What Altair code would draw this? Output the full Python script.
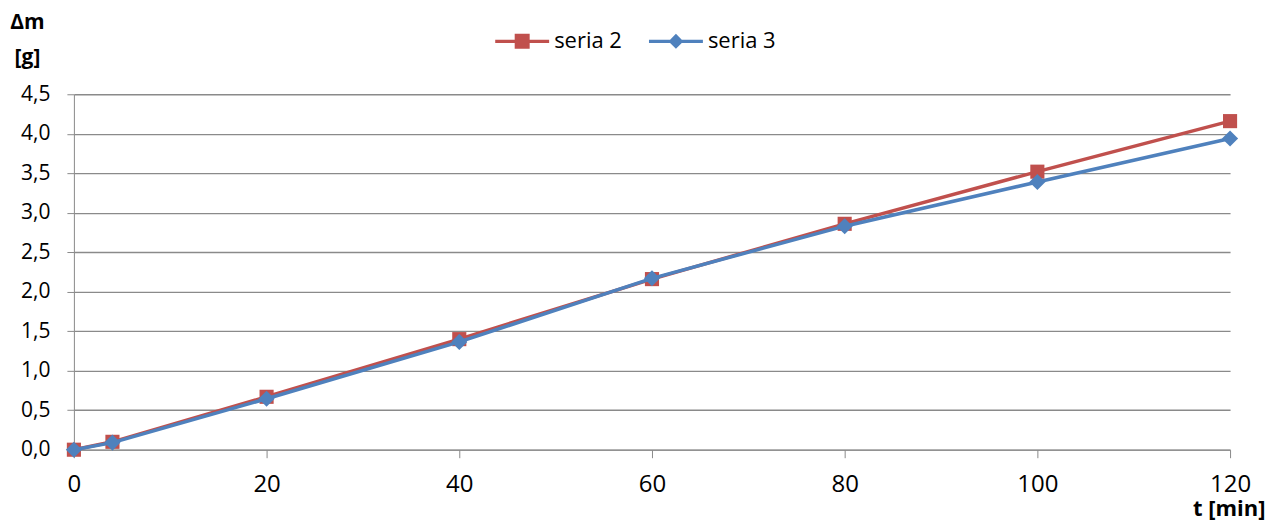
import altair as alt
import pandas as pd

t_min = [0, 4, 20, 40, 60, 80, 100, 120]
seria2 = [0.0, 0.10, 0.67, 1.40, 2.16, 2.86, 3.52, 4.16]
seria3 = [0.0, 0.09, 0.645, 1.365, 2.17, 2.83, 3.39, 3.94]
series_names = ["seria 2", "seria 3"]
series_colors = ["#C0504D", "#4F81BD"]
y_ticks = [0, 0.5, 1.0, 1.5, 2.0, 2.5, 3.0, 3.5, 4.0, 4.5]
x_ticks = [0, 20, 40, 60, 80, 100, 120]

rows = []
for name, vals in zip(series_names, [seria2, seria3]):
    for t, v in zip(t_min, vals):
        rows.append({"t": t, "dm": v, "series": name})
df = pd.DataFrame(rows)

FONT = "Open Sans"
GRID = "#8a8a8a"

sq_path = "M-1.8,-0.11H-0.5V-0.5H0.5V-0.11H1.8V0.11H0.5V0.5H-0.5V0.11H-1.8Z"
di_path = "M-1.8,-0.11H-0.39L0,-0.5L0.39,-0.11H1.8V0.11H0.39L0,0.5L-0.39,0.11H-1.8Z"

legend = alt.Legend(
    title=None,
    orient="none",
    direction="horizontal",
    legendX=434,
    legendY=-68,
    symbolSize=900,
    symbolOpacity=1,
    symbolStrokeWidth=0,
    labelFont=FONT,
    labelFontSize=22,
    labelColor="black",
    labelOffset=17,
    columnPadding=27,
    padding=0,
)

x_enc = alt.X(
    "t:Q",
    scale=alt.Scale(domain=[0, 120], nice=False),
    axis=alt.Axis(
        values=x_ticks,
        grid=False,
        title="t [min]",
        titleFont=FONT,
        titleFontSize=22,
        titleFontWeight="bold",
        titleColor="black",
        titleAnchor="start",
        titleAlign="right",
        titleBaseline="alphabetic",
        titleX=1193,
        titleY=66,
        labelFont=FONT,
        labelFontSize=24,
        labelColor="black",
        labelPadding=15,
        tickSize=8,
        tickColor=GRID,
        domainColor=GRID,
        labelFlush=False,
    ),
)
y_enc = alt.Y(
    "dm:Q",
    scale=alt.Scale(domain=[0, 4.5], nice=False),
    axis=alt.Axis(
        values=y_ticks,
        grid=True,
        gridColor=GRID,
        gridWidth=1.3,
        labelExpr="replace(format(datum.value, '.1f'), '.', ',')",
        title=["Δm", "[g]"],
        titleFont=FONT,
        titleFontSize=21,
        titleFontWeight="bold",
        titleColor="black",
        titleAngle=0,
        titleAlign="center",
        titleBaseline="alphabetic",
        titleLineHeight=35,
        titleX=-47,
        titleY=-66,
        labelFont=FONT,
        labelFontSize=21,
        labelColor="black",
        labelPadding=17,
        tickSize=7,
        tickColor=GRID,
        domainColor=GRID,
        labelFlush=False,
    ),
)
color_scale = alt.Scale(domain=series_names, range=series_colors)

base = alt.Chart(df)
layers = []
for name, shape, col in zip(series_names, ["square", "diamond"], series_colors):
    sub = base.transform_filter(alt.datum.series == name)
    layers.append(sub.mark_line(strokeWidth=3.5, color=col).encode(x=x_enc, y=y_enc))
    layers.append(
        sub.mark_point(shape=shape, filled=True, color=col, size=200 if shape == "square" else 260, opacity=1).encode(
            x=x_enc, y=y_enc
        )
    )

legend_layer = base.mark_point(filled=True, size=900, opacity=0).encode(
    x=x_enc,
    y=y_enc,
    color=alt.Color("series:N", scale=color_scale, legend=legend),
    shape=alt.Shape("series:N", scale=alt.Scale(domain=series_names, range=[sq_path, di_path]), legend=legend),
)
layers.append(legend_layer)

chart = (
    alt.layer(*layers)
    .properties(
        width=1158,
        height=356,
        autosize=alt.AutoSizeParams(type="none"),
        padding={"left": 66, "top": 86, "right": 35, "bottom": 74},
        background="white",
    )
    .configure_view(stroke=None)
)

chart.save("out.html", embed_options={"renderer": "svg", "actions": False})
